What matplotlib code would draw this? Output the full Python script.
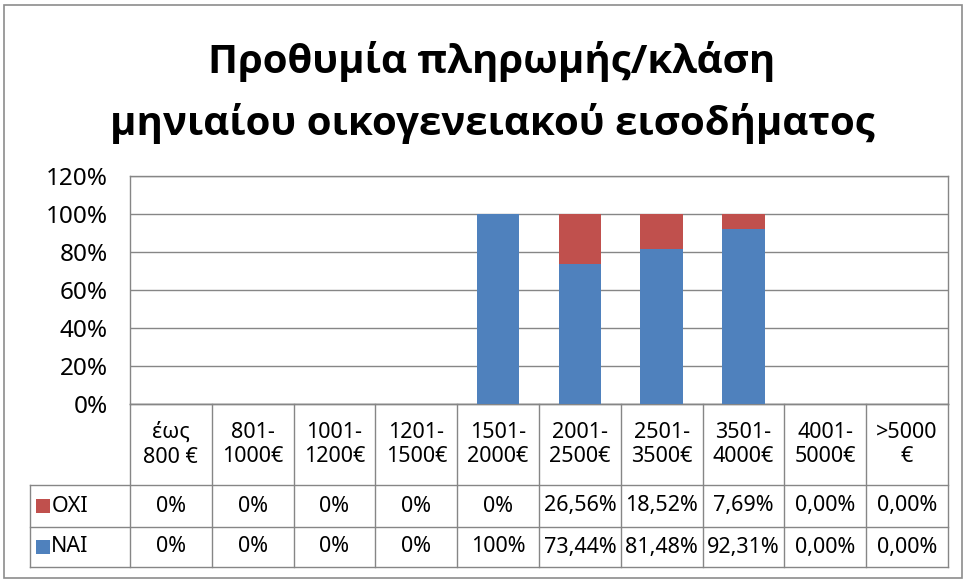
import matplotlib.pyplot as plt
import matplotlib.transforms as mtransforms
from matplotlib.patches import Rectangle
from matplotlib.ticker import PercentFormatter
import numpy as np

# -----------------------------
# Data
# -----------------------------

title = "Προθυμία πληρωμής/κλάση\nμηνιαίου οικογενειακού εισοδήματος"
categories = ["έως\n800 €", "801-\n1000€", "1001-\n1200€", "1201-\n1500€", "1501-\n2000€",
              "2001-\n2500€", "2501-\n3500€", "3501-\n4000€", "4001-\n5000€", ">5000\n€"]
oxi = [0, 0, 0, 0, 0, 26.56, 18.52, 7.69, 0, 0]
nai = [0, 0, 0, 0, 100, 73.44, 81.48, 92.31, 0, 0]
oxi_labels = ["0%", "0%", "0%", "0%", "0%", "26,56%", "18,52%", "7,69%", "0,00%", "0,00%"]
nai_labels = ["0%", "0%", "0%", "0%", "100%", "73,44%", "81,48%", "92,31%", "0,00%", "0,00%"]
series = ["OXI", "NAI"]

BLUE = "#4F81BD"
RED = "#C0504D"
GRID = "#868686"

plt.rcParams["font.family"] = ["Noto Sans", "DejaVu Sans"]

# -----------------------------
# Figure
# -----------------------------

W, H = 966, 582
fig = plt.figure(figsize=(W / 100, H / 100), dpi=100)

# outer chart border
fig.patches.append(Rectangle((4 / W, 4 / H), 958 / W, 573 / H, transform=fig.transFigure,
                             fill=False, edgecolor="#8c8c8c", linewidth=1.2))

for k, line in enumerate(title.split("\n")):
    fig.text(492 / W, 1 - (62 + 62 * k) / H, line, ha="center", va="center", fontsize=29,
             fontweight="bold", family=["Open Sans", "DejaVu Sans"])

ax = fig.add_axes([130 / W, 1 - 404 / H, 818 / W, 228 / H])
x = np.arange(len(categories))
nai_f = np.array(nai) / 100
oxi_f = np.array(oxi) / 100

ax.bar(x, nai_f, width=0.52, color=BLUE, zorder=3)
ax.bar(x, oxi_f, width=0.52, bottom=nai_f, color=RED, zorder=3)

ax.set_xlim(-0.5, len(categories) - 0.5)
ax.set_ylim(0, 1.2)
ax.set_yticks(np.arange(0, 1.21, 0.2))
ax.yaxis.set_major_formatter(PercentFormatter(1.0, decimals=0))
ax.tick_params(axis="y", length=0, labelsize=17.5, pad=16)
ax.set_xticks([])
ax.grid(axis="y", color=GRID, linewidth=1, zorder=0)
for s in ax.spines.values():
    s.set_color(GRID)
    s.set_linewidth(1)

# -----------------------------
# Data table under the chart
# -----------------------------

trans = mtransforms.blended_transform_factory(ax.transData, ax.transAxes)
px = 228.0  # axes height in pixels
y_head = -81 / px
y_oxi = -123 / px
y_nai = -163 / px
x_left = -0.5 - 100 / 81.8
x_right = len(categories) - 0.5

line_kw = dict(color=GRID, linewidth=1, transform=trans, clip_on=False)

# horizontal lines
ax.plot([-0.5, x_right], [0, 0], **line_kw)
for yy in [y_head, y_oxi, y_nai]:
    ax.plot([x_left, x_right], [yy, yy], **line_kw)
# vertical lines
ax.plot([x_left, x_left], [y_head, y_nai], **line_kw)
for xi in np.arange(-0.5, len(categories), 1.0):
    ax.plot([xi, xi], [0, y_nai], **line_kw)

fs = 15.5
for i, cat in enumerate(categories):
    ax.text(i, y_head / 2, cat, transform=trans, ha="center", va="center",
            fontsize=fs, linespacing=1.25, clip_on=False)
    ax.text(i, (y_head + y_oxi) / 2, oxi_labels[i], transform=trans, ha="center",
            va="center", fontsize=fs, clip_on=False)
    ax.text(i, (y_oxi + y_nai) / 2, nai_labels[i], transform=trans, ha="center",
            va="center", fontsize=fs, clip_on=False)

# legend keys in the row label column
for name, color, y0, y1 in [(series[0], RED, y_head, y_oxi), (series[1], BLUE, y_oxi, y_nai)]:
    ym = (y0 + y1) / 2
    ax.add_patch(Rectangle((x_left + 0.07, ym - 7 / px), 0.17, 14 / px, transform=trans,
                           facecolor=color, edgecolor="none", clip_on=False))
    ax.text(x_left + 0.26, ym, name, transform=trans, ha="left", va="center",
            fontsize=fs, clip_on=False)

fig.savefig("out.png", dpi=100)
